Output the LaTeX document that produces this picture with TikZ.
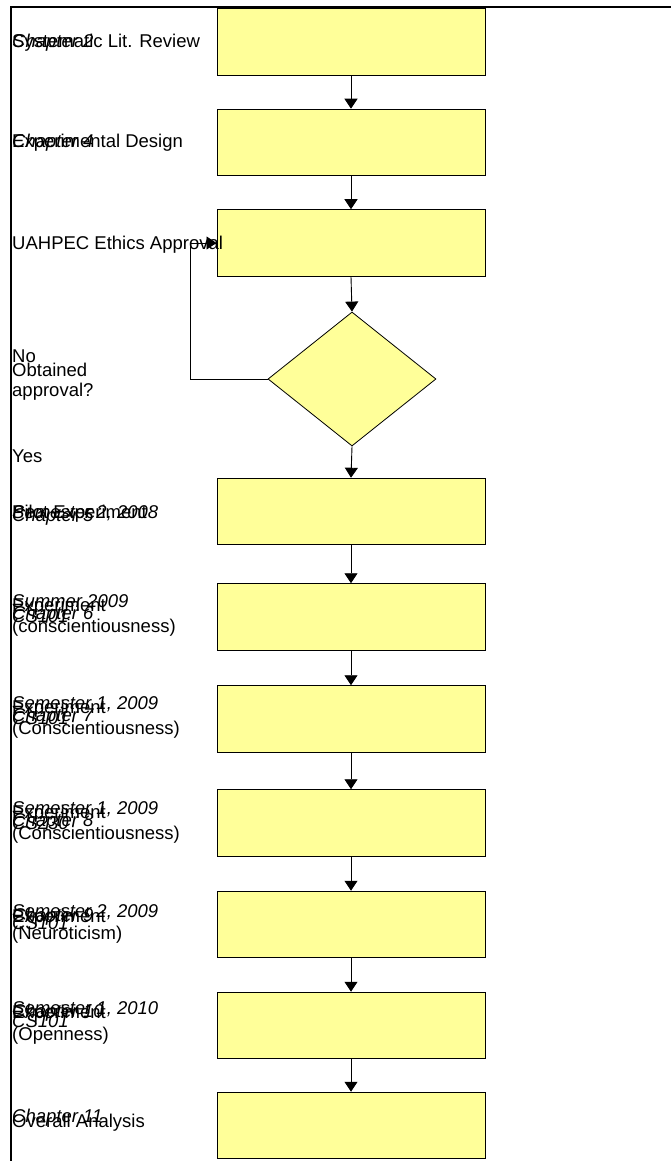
\documentclass[tikz,border=0pt]{standalone}
\usepackage{fontspec}
\setmainfont{Liberation Sans}
\usetikzlibrary{arrows.meta,shapes.geometric}
\definecolor{boxfill}{HTML}{FFFF99}
\begin{document}
\begin{tikzpicture}[x=1pt,y=-1pt,
  stepbox/.style={draw=black,line width=1pt,fill=boxfill,minimum width=268pt,minimum height=66.5pt,inner sep=0pt},
  decision/.style={diamond,draw=black,line width=0.8pt,fill=boxfill,minimum width=168pt,minimum height=134pt,aspect=1.25,inner sep=0pt},
  flow/.style={line width=0.9pt,-{Triangle[length=10pt,width=13pt]}},
  lbl/.style={anchor=base west,inner sep=0pt,font=\fontsize{18.5}{20}\selectfont},
  ilbl/.style={lbl,font=\fontsize{18.5}{20}\selectfont\itshape},
  frame/.style={line width=2pt}]
\useasboundingbox (0,0) rectangle (671,1161);
% frame lines
\coordinate (ftl) at (11,7);
\coordinate (ftr) at (671,7);
\coordinate (fbl) at (11,1161);
\draw[frame] (ftr) -- (ftl) -- (fbl);

% process steps
\node[stepbox] (b1) at (351,42) {};
\node[stepbox] (b2) at (351,142.5) {};
\node[stepbox] (b3) at (351,243) {};
\node[decision] (d) at (352,379) {};
\node[stepbox] (b4) at (351,511.5) {};
\node[stepbox] (b5) at (351,617) {};
\node[stepbox] (b6) at (351,719) {};
\node[stepbox] (b7) at (351,823) {};
\node[stepbox] (b8) at (351,924.5) {};
\node[stepbox] (b9) at (351,1025.5) {};
\node[stepbox] (b10) at (351,1125.5) {};

% connectors
\draw[flow] (b1.south) -- (b2.north);
\draw[flow] (b2.south) -- (b3.north);
\draw[flow] (b3.south) -- (d.north);
\draw[flow] (d.south) -- (b4.north);
\draw[flow] (b4.south) -- (b5.north);
\draw[flow] (b5.south) -- (b6.north);
\draw[flow] (b6.south) -- (b7.north);
\draw[flow] (b7.south) -- (b8.north);
\draw[flow] (b8.south) -- (b9.north);
\draw[flow] (b9.south) -- (b10.north);
\draw[flow] (d.west) -- (190,379) -- (190,243) -- (b3.west);

% labels
\node[lbl]  (t1a) at (12,48) {Systematic Lit. Review};
\node[ilbl] (t1b) at (12,48) {Chapter 2};
\node[lbl]  (t2a) at (12,148) {Experimental Design};
\node[ilbl] (t2b) at (12,148) {Chapter 4};
\node[lbl]  (t3a) at (12,249) {UAHPEC Ethics Approval};
\node[lbl]  (tno) at (12,362) {No};
\node[lbl]  (tq1) at (12,376) {Obtained};
\node[lbl]  (tq2) at (12,396) {approval?};
\node[lbl]  (tyes) at (12,462) {Yes};

\node[lbl]  (t4a) at (12,518) {Pilot Experiment};
\node[ilbl] (t4b) at (12,518) {Semester 2, 2008};
\node[ilbl] (t4c) at (12,521) {Chapter 5};

\node[ilbl] (t5a) at (12,607) {Summer 2009};
\node[lbl]  (t5b) at (12,611) {Experiment};
\node[ilbl] (t5c) at (12,619) {Chapter 6};
\node[ilbl] (t5d) at (12,622) {CS101};
\node[lbl]  (t5e) at (12,632) {(conscientiousness)};

\node[ilbl] (t6a) at (12,709) {Semester 1, 2009};
\node[lbl]  (t6b) at (12,713) {Experiment};
\node[ilbl] (t6c) at (12,721) {Chapter 7};
\node[ilbl] (t6d) at (12,724) {CS101};
\node[lbl]  (t6e) at (12,734) {(Conscientiousness)};

\node[ilbl] (t7a) at (12,814) {Semester 1, 2009};
\node[lbl]  (t7b) at (12,818) {Experiment};
\node[ilbl] (t7c) at (12,826) {Chapter 8};
\node[ilbl] (t7d) at (12,829) {CS230};
\node[lbl]  (t7e) at (12,839) {(Conscientiousness)};

\node[ilbl] (t8a) at (12,917) {Semester 2, 2009};
\node[lbl]  (t8b) at (12,922) {Experiment};
\node[ilbl] (t8c) at (12,921) {Chapter 9};
\node[ilbl] (t8d) at (12,929) {CS101};
\node[lbl]  (t8e) at (12,939) {(Neuroticism)};

\node[ilbl] (t9a) at (12,1014) {Semester 1, 2010};
\node[lbl]  (t9b) at (12,1018) {Experiment};
\node[ilbl] (t9c) at (12,1017) {Chapter 10};
\node[ilbl] (t9d) at (12,1027) {CS101};
\node[lbl]  (t9e) at (12,1040) {(Openness)};

\node[ilbl] (t10a) at (12,1122) {Chapter 11};
\node[lbl]  (t10b) at (12,1127) {Overall Analysis};
\end{tikzpicture}
\end{document}
